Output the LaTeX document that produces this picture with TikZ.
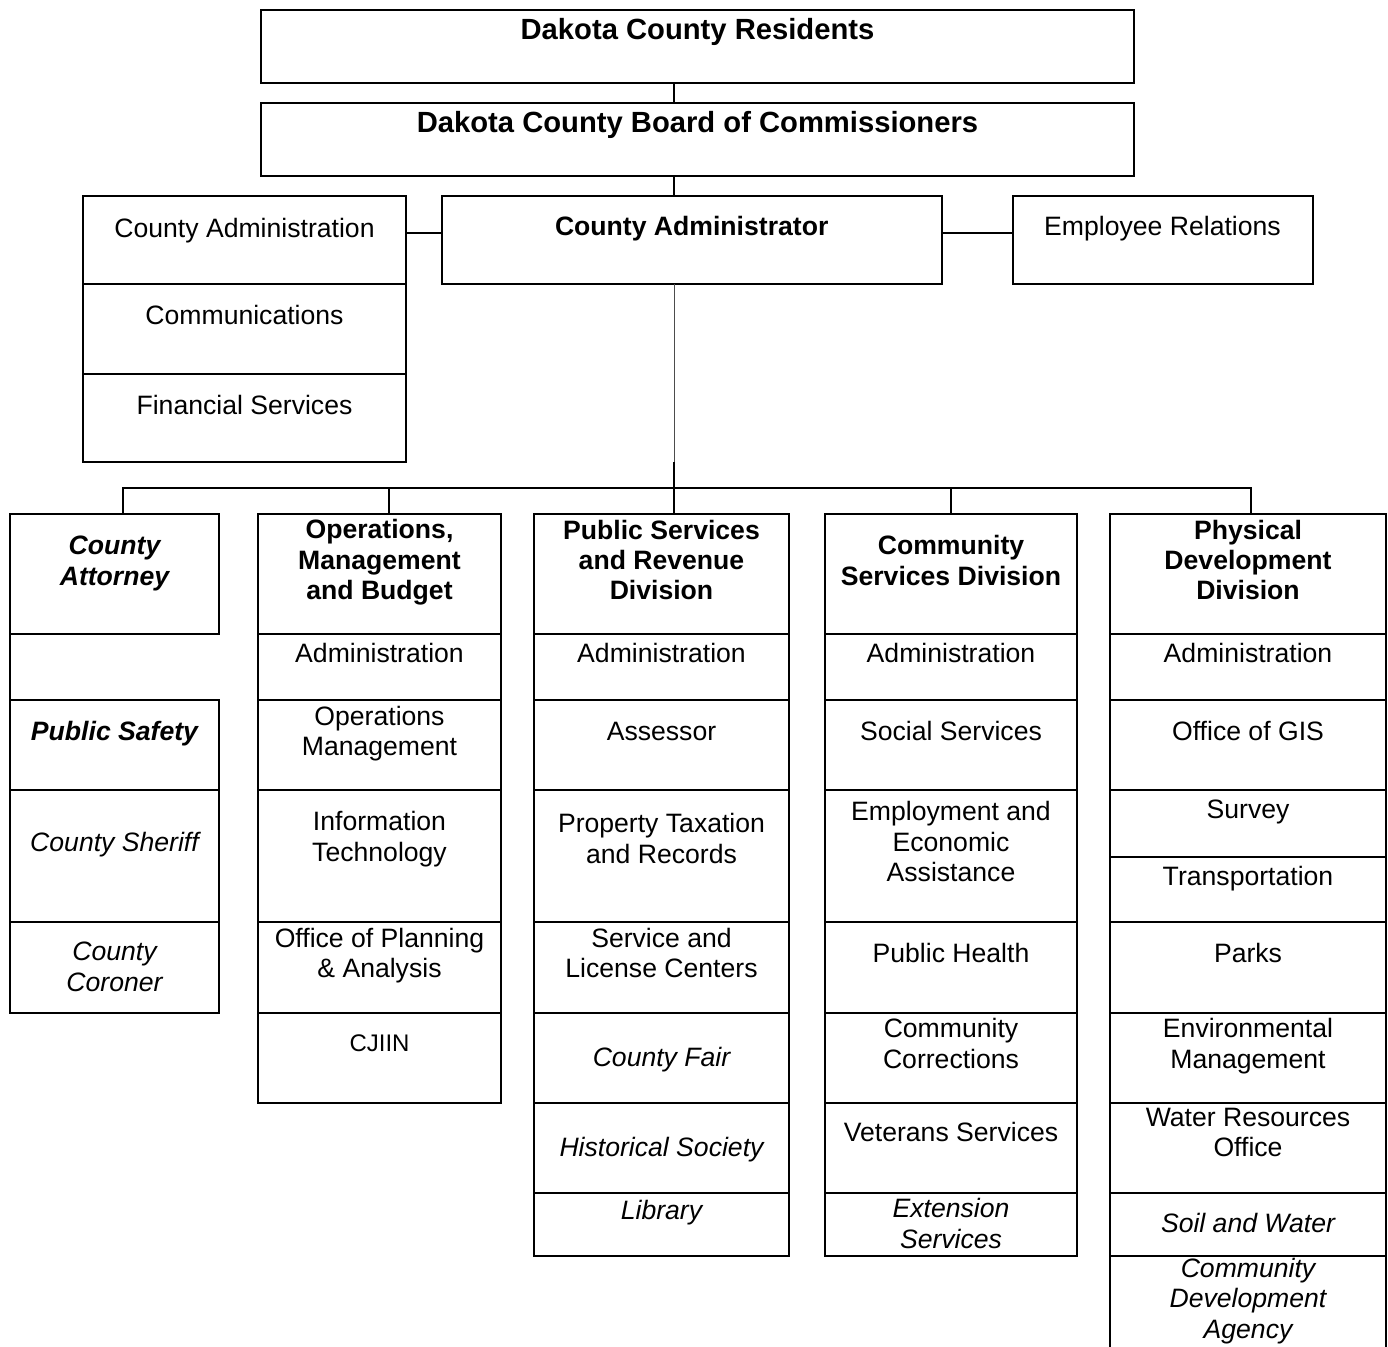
\documentclass[tikz,border=0pt]{standalone}
\usepackage{fontspec}
\setmainfont{Liberation Sans}
\begin{document}
\begin{tikzpicture}[x=0.5pt,y=-0.5pt,
    cellbox/.style={draw,line width=1pt,anchor=north west,inner sep=0pt,outer sep=0pt},
    celltext/.style={anchor=base,align=center,inner sep=0pt,font=\fontsize{13.3}{15.2}\selectfont},
    headtext/.style={celltext,font=\fontsize{13.3}{15.2}\selectfont\bfseries},
    toptext/.style={celltext,font=\fontsize{14.6}{17}\selectfont\bfseries},
    ittext/.style={celltext,font=\fontsize{13.3}{15.2}\selectfont\itshape},
    bitext/.style={celltext,font=\fontsize{13.3}{15.2}\selectfont\bfseries\itshape},
    link/.style={line width=1pt}]
  \clip (0,0) rectangle (1388,1347);
  % residents, board, administrator
  \node[cellbox,minimum width=436.5pt,minimum height=36.5pt] (res) at (261,10) {};
  \node[cellbox,minimum width=436.5pt,minimum height=36.5pt] (board) at (261,103) {};
  \node[cellbox,minimum width=249.75pt,minimum height=44pt] (cadm) at (442,196) {};
  \node[cellbox,minimum width=150.25pt,minimum height=44pt] (emp) at (1012.5,196) {};
  \node[cellbox,minimum width=161.5pt,minimum height=44pt] (admin1) at (83,196) {};
  \node[cellbox,minimum width=161.5pt,minimum height=45pt] (admin2) at (83,284) {};
  \node[cellbox,minimum width=161.5pt,minimum height=44pt] (admin3) at (83,374) {};
  \node[toptext] (t-res) at (697.5,40) {Dakota County Residents};
  \node[toptext] (t-board) at (697.5,132.7) {Dakota County Board of Commissioners};
  \node[headtext] (t-cadm) at (691.7,236) {County Administrator};
  \node[celltext] (t-emp) at (1162.5,236) {Employee Relations};
  \node[celltext] (t-admin1) at (244.5,237.3) {County Administration};
  \node[celltext] (t-admin2) at (244.5,325) {Communications};
  \node[celltext] (t-admin3) at (244.5,415) {Financial Services};
  % county attorney column
  \node[cellbox,minimum width=104.5pt,minimum height=60.25pt] (att) at (10,514) {};
  \draw[line width=1pt] (att.south west) -- (10,700.5);
  \node[cellbox,minimum width=104.5pt,minimum height=45pt] (att2) at (10,700.5) {};
  \node[cellbox,minimum width=104.5pt,minimum height=65.5pt] (att3) at (10,790.5) {};
  \node[cellbox,minimum width=104.5pt,minimum height=45.5pt] (att4) at (10,921.5) {};
  \node[bitext] (t-att) at (114.5,585.4) {County\\Attorney};
  \node[bitext] (t-att2) at (114.5,740.7) {Public Safety};
  \node[ittext] (t-att3) at (114.5,851.4) {County Sheriff};
  \node[ittext] (t-att4) at (114.5,991) {County\\Coroner};
  % operations, management and budget column
  \node[cellbox,minimum width=121.5pt,minimum height=60.25pt] (omb) at (258,514) {};
  \node[cellbox,minimum width=121.5pt,minimum height=33pt] (omb1) at (258,634.5) {};
  \node[cellbox,minimum width=121.5pt,minimum height=45pt] (omb2) at (258,700.5) {};
  \node[cellbox,minimum width=121.5pt,minimum height=65.5pt] (omb3) at (258,790.5) {};
  \node[cellbox,minimum width=121.5pt,minimum height=45.5pt] (omb4) at (258,921.5) {};
  \node[cellbox,minimum width=121.5pt,minimum height=45pt] (omb5) at (258,1012.5) {};
  \node[headtext] (t-omb) at (379.5,599.6) {Operations,\\Management\\and Budget};
  \node[celltext] (t-omb1) at (379.5,663) {Administration};
  \node[celltext] (t-omb2) at (379.5,756) {Operations\\Management};
  \node[celltext] (t-omb3) at (379.5,861.4) {Information\\Technology};
  \node[celltext] (t-omb4) at (379.5,977.5) {Office of Planning\\\& Analysis};
  \node[celltext,font=\fontsize{12}{14}\selectfont] (t-omb5) at (379.5,1051.7) {CJIIN};
  % public services and revenue column
  \node[cellbox,minimum width=127.5pt,minimum height=60.25pt] (psr) at (534,514) {};
  \node[cellbox,minimum width=127.5pt,minimum height=33pt] (psr1) at (534,634.5) {};
  \node[cellbox,minimum width=127.5pt,minimum height=45pt] (psr2) at (534,700.5) {};
  \node[cellbox,minimum width=127.5pt,minimum height=65.5pt] (psr3) at (534,790.5) {};
  \node[cellbox,minimum width=127.5pt,minimum height=45.5pt] (psr4) at (534,921.5) {};
  \node[cellbox,minimum width=127.5pt,minimum height=45pt] (psr5) at (534,1012.5) {};
  \node[cellbox,minimum width=127.5pt,minimum height=45pt] (psr6) at (534,1102.5) {};
  \node[cellbox,minimum width=127.5pt,minimum height=31.75pt] (psr7) at (534,1192.5) {};
  \node[headtext] (t-psr) at (661.5,600) {Public Services\\and Revenue\\Division};
  \node[celltext] (t-psr1) at (661.5,663) {Administration};
  \node[celltext] (t-psr2) at (661.5,740.7) {Assessor};
  \node[celltext] (t-psr3) at (661.5,863.2) {Property Taxation\\and Records};
  \node[celltext] (t-psr4) at (661.5,977.5) {Service and\\License Centers};
  \node[ittext] (t-psr5) at (661.5,1066.7) {County Fair};
  \node[ittext] (t-psr6) at (661.5,1156) {Historical Society};
  \node[ittext] (t-psr7) at (661.5,1219.3) {Library};
  % community services column
  \node[cellbox,minimum width=126pt,minimum height=60.25pt] (csd) at (825,514) {};
  \node[cellbox,minimum width=126pt,minimum height=33pt] (csd1) at (825,634.5) {};
  \node[cellbox,minimum width=126pt,minimum height=45pt] (csd2) at (825,700.5) {};
  \node[cellbox,minimum width=126pt,minimum height=65.5pt] (csd3) at (825,790.5) {};
  \node[cellbox,minimum width=126pt,minimum height=45.5pt] (csd4) at (825,921.5) {};
  \node[cellbox,minimum width=126pt,minimum height=45pt] (csd5) at (825,1012.5) {};
  \node[cellbox,minimum width=126pt,minimum height=45pt] (csd6) at (825,1102.5) {};
  \node[cellbox,minimum width=126pt,minimum height=31.75pt] (csd7) at (825,1192.5) {};
  \node[headtext] (t-csd) at (951,585.4) {Community\\Services Division};
  \node[celltext] (t-csd1) at (951,663) {Administration};
  \node[celltext] (t-csd2) at (951,740.7) {Social Services};
  \node[celltext] (t-csd3) at (951,881.8) {Employment and\\Economic\\Assistance};
  \node[celltext] (t-csd4) at (951,962.9) {Public Health};
  \node[celltext] (t-csd5) at (951,1068.3) {Community\\Corrections};
  \node[celltext] (t-csd6) at (951,1141.7) {Veterans Services};
  \node[ittext] (t-csd7) at (951,1248.3) {Extension\\Services};
  % physical development column
  \node[cellbox,minimum width=138pt,minimum height=60.25pt] (pdd) at (1110,514) {};
  \node[cellbox,minimum width=138pt,minimum height=33pt] (pdd1) at (1110,634.5) {};
  \node[cellbox,minimum width=138pt,minimum height=45pt] (pdd2) at (1110,700.5) {};
  \node[cellbox,minimum width=138pt,minimum height=33.25pt] (pdd3) at (1110,790.5) {};
  \node[cellbox,minimum width=138pt,minimum height=32.25pt] (pdd4) at (1110,857) {};
  \node[cellbox,minimum width=138pt,minimum height=45.5pt] (pdd5) at (1110,921.5) {};
  \node[cellbox,minimum width=138pt,minimum height=45pt] (pdd6) at (1110,1012.5) {};
  \node[cellbox,minimum width=138pt,minimum height=45pt] (pdd7) at (1110,1102.5) {};
  \node[cellbox,minimum width=138pt,minimum height=31.75pt] (pdd8) at (1110,1192.5) {};
  \node[cellbox,minimum width=138pt,minimum height=60pt] (pdd9) at (1110,1256) {};
  \node[headtext] (t-pdd) at (1248,600) {Physical\\Development\\Division};
  \node[celltext] (t-pdd1) at (1248,663) {Administration};
  \node[celltext] (t-pdd2) at (1248,740.7) {Office of GIS};
  \node[celltext] (t-pdd3) at (1248,818.3) {Survey};
  \node[celltext] (t-pdd4) at (1248,885) {Transportation};
  \node[celltext] (t-pdd5) at (1248,962.9) {Parks};
  \node[celltext] (t-pdd6) at (1248,1068.3) {Environmental\\Management};
  \node[celltext] (t-pdd7) at (1248,1156.7) {Water Resources\\Office};
  \node[ittext] (t-pdd8) at (1248,1232.7) {Soil and Water};
  \node[ittext] (t-pdd9) at (1248,1338) {Community\\Development\\Agency};
  % connectors
  \coordinate (trunk) at (674,0);
  \coordinate (bend) at (674,462);
  \coordinate (side) at (0,233.5);
  \coordinate (d1) at (122.7,488);
  \coordinate (d2) at (388.5,488);
  \coordinate (d3) at (674,488);
  \coordinate (d4) at (951,488);
  \coordinate (d5) at (1251,488);
  \draw[link] (res.south -| trunk) -- (board.north -| trunk);
  \draw[link] (board.south -| trunk) -- (cadm.north -| trunk);
  \draw[link] (admin1.east |- side) -- (cadm.west |- side);
  \draw[link] (cadm.east |- side) -- (emp.west |- side);
  \draw[line width=0.5pt,black!70] (cadm.south -| trunk) -- (bend);
  \draw[link] (bend) -- (d3) -- (d3 |- psr.north);
  \draw[link] (d1 |- att.north) -- (d1) -- (d5) -- (d5 |- pdd.north);
  \draw[link] (d2) -- (d2 |- omb.north);
  \draw[link] (d4) -- (d4 |- csd.north);
\end{tikzpicture}
\end{document}
